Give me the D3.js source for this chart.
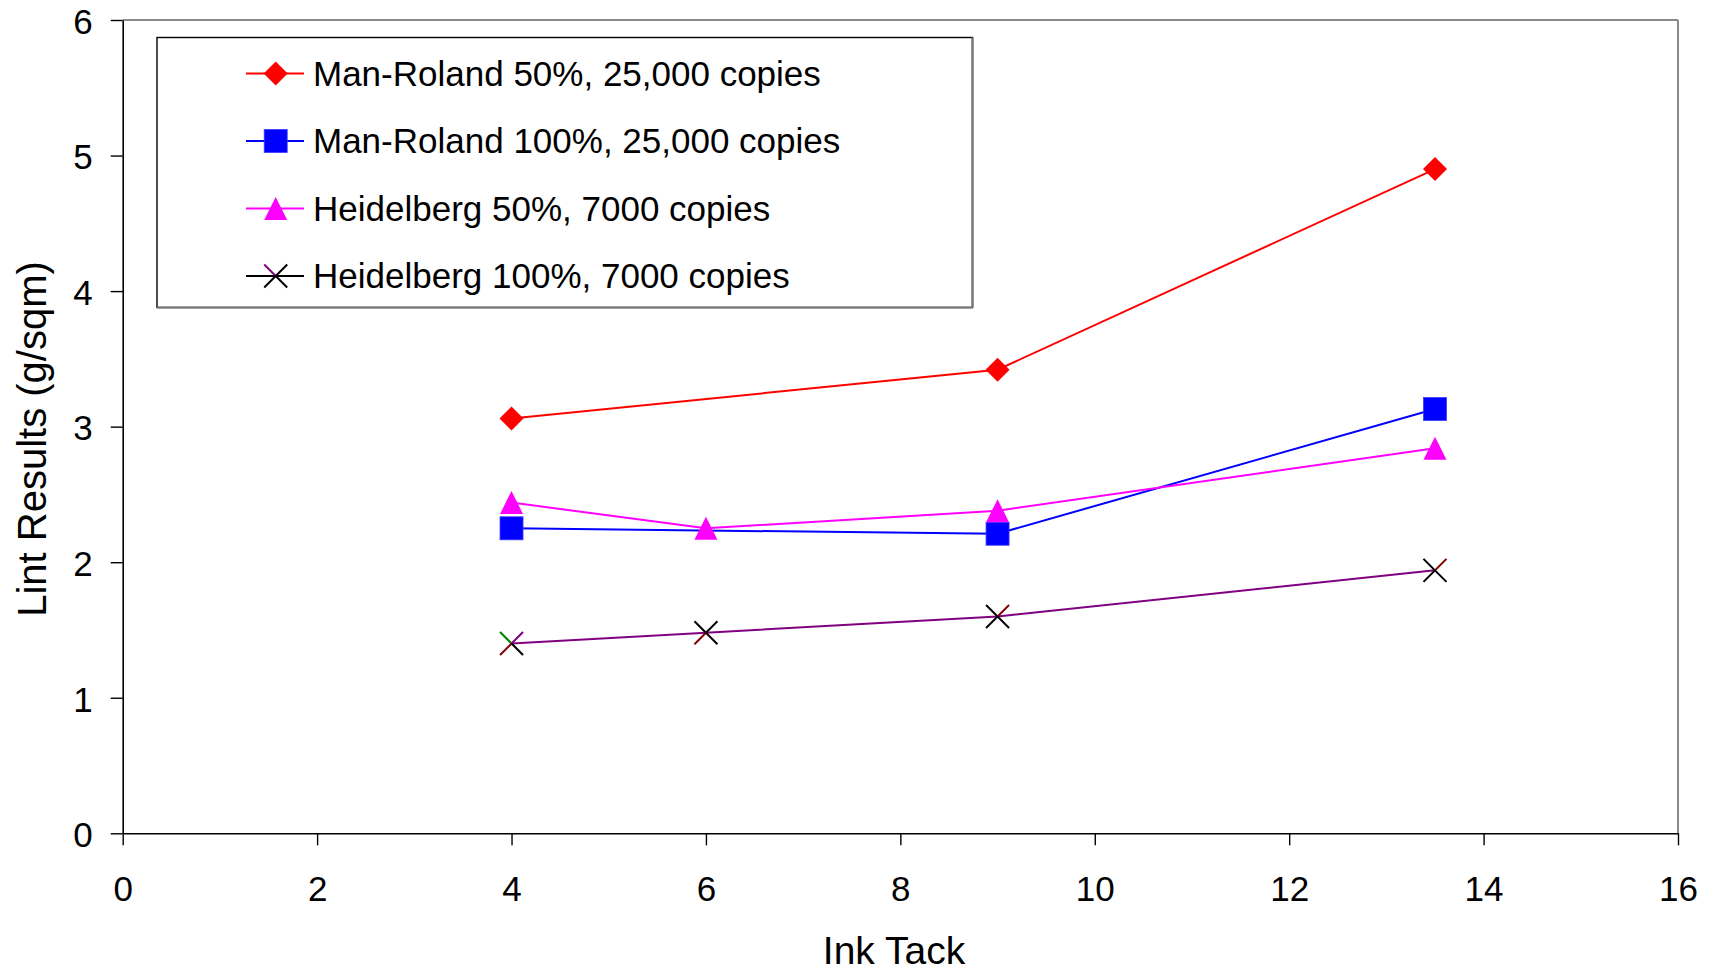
<!DOCTYPE html>
<html>
<head>
<meta charset="utf-8">
<script src="https://cdn.jsdelivr.net/npm/d3@7/dist/d3.min.js"></script>
<style>
  html, body { margin: 0; padding: 0; background: #fff; }
  svg { display: block; }
  text { font-family: "Liberation Sans", Arial, Helvetica, sans-serif; fill: #000; }
</style>
</head>
<body>
<svg id="chart" width="1711" height="973"></svg>
<script>
// Lint results against ink tack for two presses at two coverage levels
const seriesNames = [
  "Man-Roland 50%, 25,000 copies",
  "Man-Roland 100%, 25,000 copies",
  "Heidelberg 50%, 7000 copies",
  "Heidelberg 100%, 7000 copies"
];
const manRoland50X = [4, 9, 13.5];
const manRoland50Y = [3.06, 3.42, 4.90];
const manRoland100X = [4, 9, 13.5];
const manRoland100Y = [2.25, 2.21, 3.13];
const heidelberg50X = [4, 6, 9, 13.5];
const heidelberg50Y = [2.44, 2.25, 2.38, 2.84];
const heidelberg100X = [4, 6, 9, 13.5];
const heidelberg100Y = [1.40, 1.48, 1.60, 1.94];
const xTicks = [0, 2, 4, 6, 8, 10, 12, 14, 16];
const yTicks = [0, 1, 2, 3, 4, 5, 6];
const xTitle = "Ink Tack";
const yTitle = "Lint Results (g/sqm)";

const svg = d3.select("#chart");
const plot = { left: 122.7, right: 1678, top: 20, bottom: 833.3 };

const x = d3.scaleLinear().domain([0, 16]).range([plot.left, plot.right]);
const y = d3.scaleLinear().domain([0, 6]).range([plot.bottom, plot.top]);

// Series styling
const styles = [
  { line: "#ff0000", marker: "diamond", fill: "#ff0000", legendLine: "#ff0000" },
  { line: "#0000ff", marker: "square", fill: "#0000ff", legendLine: "#0000ff" },
  { line: "#ff00ff", marker: "triangle", fill: "#ff00ff", legendLine: "#ff00ff" },
  { line: "#800080", marker: "cross", fill: "none", legendLine: "#000000" }
];
// Cross marker arm colours: [upper-left, upper-right, lower-left, lower-right]
const crossArms = [
  ["#008000", "#800080", "#800000", "#000000"],
  ["#000000", "#000000", "#800000", "#000000"],
  ["#000000", "#800000", "#000000", "#000000"],
  ["#000000", "#800000", "#000000", "#000000"]
];
const legendCrossArms = ["#800080", "#000000", "#000000", "#000000"];

const series = [
  { name: seriesNames[0], xs: manRoland50X, ys: manRoland50Y },
  { name: seriesNames[1], xs: manRoland100X, ys: manRoland100Y },
  { name: seriesNames[2], xs: heidelberg50X, ys: heidelberg50Y },
  { name: seriesNames[3], xs: heidelberg100X, ys: heidelberg100Y }
].map((s, i) => ({ ...s, style: styles[i], points: s.xs.map((v, j) => ({ x: v, y: s.ys[j] })) }));

// Plot frame: grey top/right edges
svg.append("line").attr("x1", plot.left).attr("x2", plot.right).attr("y1", plot.top).attr("y2", plot.top)
  .attr("stroke", "#8a8a8a").attr("stroke-width", 2);
svg.append("line").attr("x1", plot.right).attr("x2", plot.right).attr("y1", plot.top).attr("y2", plot.bottom)
  .attr("stroke", "#8a8a8a").attr("stroke-width", 2);

// Axes
const yAxis = d3.axisLeft(y).tickValues(yTicks).tickFormat(d3.format("d")).tickSize(12).tickSizeOuter(0).tickPadding(18);
const xAxis = d3.axisBottom(x).tickValues(xTicks).tickFormat(d3.format("d")).tickSize(12).tickSizeOuter(0).tickPadding(31);

const gy = svg.append("g").attr("transform", `translate(${plot.left},0)`).call(yAxis);
const gx = svg.append("g").attr("transform", `translate(0,${plot.bottom})`).call(xAxis);
[gx, gy].forEach(g => {
  g.selectAll("path.domain").attr("stroke", "#000").attr("stroke-width", 1.6);
  g.selectAll(".tick line").attr("stroke", "#000").attr("stroke-width", 1.4);
  g.selectAll(".tick text").style("font-size", "35px")
    .style("font-family", '"Liberation Sans", Arial, sans-serif').attr("fill", "#000");
});
gy.selectAll(".tick text").attr("dy", "0.38em");
gx.selectAll(".tick text").attr("dy", "0.71em");

// Axis titles
svg.append("text").attr("x", 894).attr("y", 964).attr("text-anchor", "middle")
  .style("font-size", "39px").text(xTitle);
svg.append("text").attr("transform", "translate(46,439) rotate(-90)").attr("text-anchor", "middle")
  .style("font-size", "40px").text(yTitle);

// Marker drawing
function drawMarker(g, type, cx, cy, fill, arms) {
  const h = 11.5;
  if (type === "diamond") {
    g.append("path").attr("d", `M${cx},${cy - 12}L${cx + 12},${cy}L${cx},${cy + 12}L${cx - 12},${cy}Z`).attr("fill", fill);
  } else if (type === "square") {
    g.append("rect").attr("x", cx - h).attr("y", cy - h).attr("width", 2 * h).attr("height", 2 * h)
      .attr("fill", fill).attr("stroke", "#3a3aff").attr("stroke-width", 0.8);
  } else if (type === "triangle") {
    g.append("path").attr("d", `M${cx},${cy - h}L${cx + h},${cy + h}L${cx - h},${cy + h}Z`).attr("fill", fill);
  } else if (type === "cross") {
    const ends = [[-h, -h], [h, -h], [-h, h], [h, h]];
    ends.forEach((e, k) => {
      g.append("line").attr("x1", cx).attr("y1", cy).attr("x2", cx + e[0]).attr("y2", cy + e[1])
        .attr("stroke", arms[k]).attr("stroke-width", 2);
    });
  }
}

// Lines and markers
const line = d3.line().x(d => x(d.x)).y(d => y(d.y));
const gData = svg.append("g");
series.forEach(s => {
  gData.append("path").datum(s.points).attr("d", line)
    .attr("fill", "none").attr("stroke", s.style.line).attr("stroke-width", 2);
});
series.forEach(s => {
  const g = gData.append("g");
  s.points.forEach((p, j) => {
    drawMarker(g, s.style.marker, x(p.x), y(p.y), s.style.fill, crossArms[j]);
  });
});

// Legend
const legend = { x0: 157, y0: 37.5, x1: 972.5, y1: 307.5 };
const lg = svg.append("g");
lg.append("rect").attr("x", legend.x0).attr("y", legend.y0)
  .attr("width", legend.x1 - legend.x0).attr("height", legend.y1 - legend.y0)
  .attr("fill", "#fff").attr("stroke", "#000").attr("stroke-width", 1.4);
lg.append("line").attr("x1", legend.x1).attr("x2", legend.x1).attr("y1", legend.y0).attr("y2", legend.y1)
  .attr("stroke", "#777").attr("stroke-width", 2.2);
lg.append("line").attr("x1", legend.x0).attr("x2", legend.x1).attr("y1", legend.y1).attr("y2", legend.y1)
  .attr("stroke", "#777").attr("stroke-width", 2.2);

const rowY = d3.scaleLinear().domain([0, 3]).range([73.5, 276]);
series.forEach((s, i) => {
  const cy = rowY(i);
  lg.append("line").attr("x1", 246).attr("x2", 304).attr("y1", cy).attr("y2", cy)
    .attr("stroke", s.style.legendLine).attr("stroke-width", 2);
  drawMarker(lg, s.style.marker, 275.7, cy, s.style.fill, legendCrossArms);
  lg.append("text").attr("x", 313).attr("y", cy + 12).style("font-size", "35px").text(s.name);
});
</script>
</body>
</html>
